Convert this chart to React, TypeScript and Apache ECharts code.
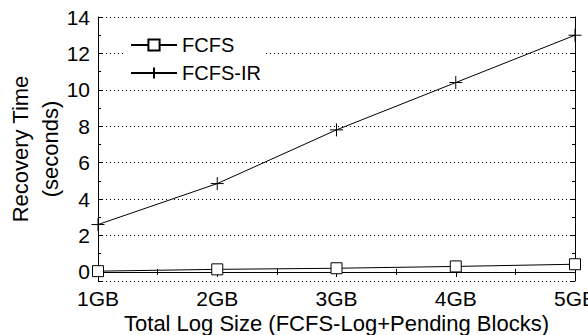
import React, { useEffect, useRef } from "react";
import * as echarts from "echarts";

const sizesGB = [1, 2, 3, 4, 5];
const xTickLabels = ["1GB", "2GB", "3GB", "4GB", "5GB"];
const fcfs = [0.04, 0.14, 0.2, 0.3, 0.42];
const fcfsIR = [2.6, 4.85, 7.8, 10.4, 13.0];
const seriesNames = ["FCFS", "FCFS-IR"];

const FONT = "Liberation Sans, Arial, sans-serif";

export default function App() {
  const ref = useRef<HTMLDivElement>(null);
  useEffect(() => {
    if (!ref.current) return;
    const chart = echarts.init(ref.current, null, { renderer: "svg" });
    const pairs = (ys: number[]) => sizesGB.map((x, i) => [x, ys[i]]);
    const axisCommon = {
      axisLine: { show: true, lineStyle: { color: "#000", width: 1 } },
      axisTick: { show: true, inside: true, length: 5, lineStyle: { color: "#000" } },
      minorTick: { show: true, splitNumber: 2, length: 3, lineStyle: { color: "#000" } },
    };
    chart.setOption({
      animation: false,
      textStyle: { fontFamily: FONT },
      grid: { left: 98, right: 13, top: 17, bottom: 54, containLabel: false, outerBoundsMode: "none" },
      legend: {
        orient: "vertical",
        left: 125,
        top: 30,
        itemWidth: 46,
        itemHeight: 14,
        itemGap: 8,
        padding: 5,
        backgroundColor: "#fff",
        textStyle: { fontFamily: FONT, fontSize: 20, color: "#000" },
        data: seriesNames,
      },
      xAxis: [
        {
          type: "value",
          min: 1,
          max: 5,
          interval: 1,
          position: "bottom",
          ...axisCommon,
          splitLine: { show: false },
          axisLabel: {
            fontFamily: FONT,
            fontSize: 21,
            color: "#000",
            margin: 7,
            hideOverlap: false,
            formatter: (v: number) => xTickLabels[sizesGB.indexOf(v)] ?? "",
          },
          name: "Total Log Size (FCFS-Log+Pending Blocks)",
          nameLocation: "middle",
          nameMoveOverlap: false,
          nameGap: 30,
          nameTextStyle: { fontFamily: FONT, fontSize: 22, color: "#000", lineHeight: 24 },
        },
        {
          type: "value",
          min: 1,
          max: 5,
          interval: 1,
          position: "top",
          ...axisCommon,
          splitLine: { show: false },
          axisLabel: { show: false },
        },
      ],
      yAxis: [
        {
          type: "value",
          min: -0.5,
          max: 14,
          splitNumber: 7,
          position: "left",
          ...axisCommon,
          splitLine: {
            show: true,
            lineStyle: { color: "#000", type: [1, 3], width: 1 },
          },
          axisLabel: {
            fontFamily: FONT,
            fontSize: 21,
            color: "#000",
            margin: 8,
            formatter: (v: number) => (v >= 0 && Math.abs(v % 2) < 1e-9 ? String(v) : ""),
          },
          name: "Recovery Time\n(seconds)",
          nameLocation: "middle",
          nameMoveOverlap: false,
          nameGap: 33,
          nameTextStyle: { fontFamily: FONT, fontSize: 22, color: "#000", lineHeight: 30 },
        },
        {
          type: "value",
          min: -0.5,
          max: 14,
          splitNumber: 7,
          position: "right",
          ...axisCommon,
          splitLine: { show: false },
          axisLabel: { show: false },
        },
      ],
      series: [
        {
          name: seriesNames[0],
          type: "line",
          data: pairs(fcfs),
          symbol: "rect",
          symbolSize: 11,
          lineStyle: { color: "#000", width: 1 },
          itemStyle: { color: "#fff", borderColor: "#000", borderWidth: 1 },
          z: 3,
        },
        {
          name: seriesNames[1],
          type: "line",
          data: pairs(fcfsIR),
          symbol: "path://M0,6H12M6,0V12",
          symbolSize: 13,
          lineStyle: { color: "#000", width: 1 },
          itemStyle: { color: "#000", borderColor: "#000", borderWidth: 1 },
          z: 3,
        },
      ],
    });
    return () => chart.dispose();
  }, []);
  return <div ref={ref} style={{ width: 588, height: 335, position: "absolute", left: 0, top: 0 }} />;
}
